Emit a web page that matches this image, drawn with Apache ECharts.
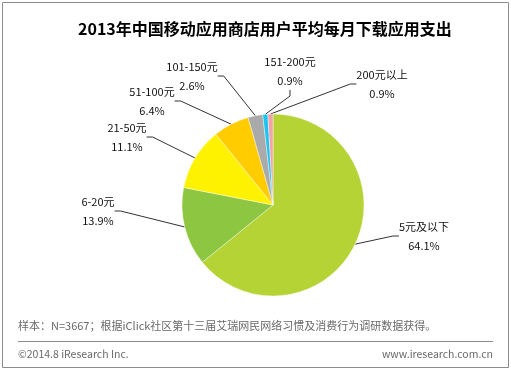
<!DOCTYPE html>
<html>
<head>
<meta charset="utf-8">
<script src="https://cdn.jsdelivr.net/npm/echarts@6/dist/echarts.min.js"></script>
<style>
html,body{margin:0;padding:0;background:#fff;}
#c{width:511px;height:370px;}
</style>
</head>
<body>
<div id="c"></div>
<script>
var titleText = '2013年中国移动应用商店用户平均每月下载应用支出';
var categories = ['5元及以下', '6-20元', '21-50元', '51-100元', '101-150元', '151-200元', '200元以上'];
var values = [64.1, 13.9, 11.1, 6.4, 2.6, 0.9, 0.9];
var noteText = '样本：N=3667；根据iClick社区第十三届艾瑞网民网络习惯及消费行为调研数据获得。';
var copyrightText = '©2014.8 iResearch Inc.';
var siteText = 'www.iresearch.com.cn';

var sliceColors = ['#B5D334', '#8DC641', '#FFF200', '#FFCC00', '#AAAAAA', '#1FC3EF', '#F4A3A8'];
// label block layout (center x, top y)
var labelSpots = [[424, 217], [98, 192], [127, 118], [152, 82], [192, 57], [290, 52], [382, 65]];

var FONT = '"Noto Sans CJK SC", "Noto Sans", sans-serif';
var chart = echarts.init(document.getElementById('c'), null, {renderer: 'canvas'});

var data = categories.map(function (n, i) {
  return {name: n, value: values[i], itemStyle: {color: sliceColors[i]}};
});

chart.setOption({
  animation: false,
  backgroundColor: '#fff',
  title: {
    text: titleText,
    left: 73,
    top: 16,
    textStyle: {fontFamily: FONT, fontSize: 16, fontWeight: 'bold', color: '#000'}
  },
  graphic: [
    {type: 'rect', shape: {x: 2.5, y: 2.5, width: 506, height: 365},
     style: {fill: 'none', stroke: '#8c8c8c', lineWidth: 1}},
    {type: 'line', shape: {x1: 18, y1: 341.5, x2: 493, y2: 341.5},
     style: {stroke: '#8c8c8c', lineWidth: 1}},
    {type: 'text', x: 18, y: 326, style: {text: noteText, fontFamily: FONT, fontSize: 11,
      fill: '#6a6a6a', verticalAlign: 'middle', align: 'left'}},
    {type: 'text', x: 18, y: 354, style: {text: copyrightText, fontFamily: FONT, fontSize: 10.5,
      fill: '#6a6a6a', verticalAlign: 'middle', align: 'left'}},
    {type: 'text', x: 493, y: 354, style: {text: siteText, fontFamily: FONT, fontSize: 10.5,
      fill: '#6a6a6a', verticalAlign: 'middle', align: 'right'}}
  ],
  series: [{
    type: 'pie',
    center: [273, 205],
    radius: 91,
    startAngle: 90,
    clockwise: true,
    avoidLabelOverlap: false,
    data: data,
    itemStyle: {borderColor: '#ffffff', borderWidth: 0.4},
    label: {
      show: true,
      formatter: '{b}\n{c}%',
      fontFamily: FONT,
      fontSize: 11,
      color: '#111',
      lineHeight: 19,
      align: 'center'
    },
    labelLine: {show: true, length: 10, length2: 6, lineStyle: {color: '#333', width: 1}},
    labelLayout: function (p) {
      var s = labelSpots[p.dataIndex];
      return {x: s[0], y: s[1], align: 'center', verticalAlign: 'top'};
    },
    emphasis: {disabled: true}
  }]
});
</script>
</body>
</html>
